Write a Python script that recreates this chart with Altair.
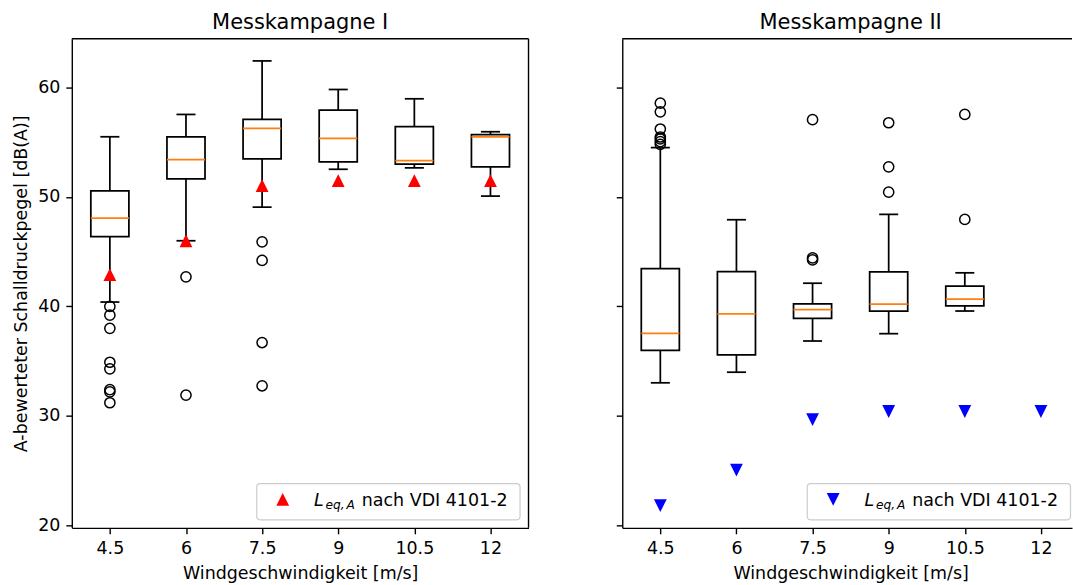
import altair as alt
import pandas as pd

# ---------------- data ----------------
wind_labels = ["4.5", "6", "7.5", "9", "10.5", "12"]
positions = [1, 2, 3, 4, 5, 6]

# Messkampagne I
k1_box_pos = [1, 2, 3, 4, 5, 6]
k1_whislo = [40.40, 46.00, 49.07, 52.53, 52.66, 50.08]
k1_q1 = [46.37, 51.65, 53.47, 53.20, 52.99, 52.75]
k1_med = [48.07, 53.41, 56.27, 55.36, 53.32, 55.48]
k1_q3 = [50.56, 55.50, 57.09, 57.94, 56.42, 55.69]
k1_whishi = [55.50, 57.54, 62.43, 59.82, 58.97, 55.96]
k1_leq = [42.9, 46.0, 51.05, 51.5, 51.5, 51.5]
k1_out_pos = [1, 1, 1, 1, 1, 1, 1, 1, 2, 2, 3, 3, 3, 3]
k1_out_val = [40.0, 39.2, 38.0, 34.9, 34.3, 32.4, 32.2, 31.2,
              42.7, 31.9, 45.9, 44.2, 36.7, 32.75]

# Messkampagne II
k2_box_pos = [1, 2, 3, 4, 5]
k2_whislo = [33.02, 33.99, 36.84, 37.51, 39.58]
k2_q1 = [35.99, 35.57, 38.91, 39.58, 40.06]
k2_med = [37.54, 39.33, 39.70, 40.21, 40.67]
k2_q3 = [43.46, 43.19, 40.24, 43.16, 41.85]
k2_whishi = [54.51, 47.92, 42.12, 48.41, 43.07]
k2_leq = [21.8, 25.05, 29.65, 30.4, 30.4, 30.4]
k2_out_pos = [1, 1, 1, 1, 1, 1, 1, 3, 3, 3, 4, 4, 4, 5, 5]
k2_out_val = [58.57, 57.78, 56.21, 55.48, 55.30, 55.05, 54.81,
              57.06, 44.43, 44.25, 56.78, 52.75, 50.44, 57.54, 47.95]

y_ticks = [20, 30, 40, 50, 60]
Y_DOMAIN = [19.77, 64.46]

FONT = "DejaVu Sans"
PW = 458
PH = 490.5
BOXW = 0.25
CAPW = 0.125
LW = 1.75
TRI_SIZE = 165

label_expr = "[" + ",".join("'%s'" % s for s in wind_labels) + "][datum.value - 1]"
TRI_UP = "M0,-1L1,1L-1,1Z"
TRI_DOWN = "M0,1L1,-1L-1,-1Z"


def make_panel(title, box_pos, whislo, q1, med, q3, whishi, out_pos, out_val,
               leq, leq_color, leq_shape, width, show_labels, title_dx):
    xmax = 0.5 + width / (PW / 6.0)
    xs = alt.Scale(domain=[0.5, xmax], nice=False, zero=False)
    ys = alt.Scale(domain=Y_DOMAIN, nice=False, zero=False)
    xaxis = alt.Axis(values=positions, labelExpr=label_expr, grid=False,
                     title="Windgeschwindigkeit [m/s]", titleX=PW / 2)
    if show_labels:
        yaxis = alt.Axis(values=y_ticks, grid=False,
                         title="A-bewerteter Schalldruckpegel [dB(A)]",
                         minExtent=34, maxExtent=34)
    else:
        yaxis = alt.Axis(values=y_ticks, labels=False, title=None, grid=False,
                         minExtent=6, maxExtent=6)

    def X(f):
        return alt.X(f, type="quantitative", scale=xs, axis=xaxis)

    def Y(f):
        return alt.Y(f, type="quantitative", scale=ys, axis=yaxis)

    box_df = pd.DataFrame({"pos": box_pos, "q1": q1, "q3": q3, "med": med,
                           "lo": whislo, "hi": whishi})
    box_df["xl"] = box_df["pos"] - BOXW
    box_df["xr"] = box_df["pos"] + BOXW

    segs = []
    for _, r in box_df.iterrows():
        segs.append({"x": r.pos, "x2": r.pos, "y": r.q3, "y2": r.hi})
        segs.append({"x": r.pos, "x2": r.pos, "y": r.q1, "y2": r.lo})
        segs.append({"x": r.pos - CAPW, "x2": r.pos + CAPW, "y": r.hi, "y2": r.hi})
        segs.append({"x": r.pos - CAPW, "x2": r.pos + CAPW, "y": r.lo, "y2": r.lo})
    seg_df = pd.DataFrame(segs)

    out_df = pd.DataFrame({"pos": out_pos, "val": out_val})
    leq_df = pd.DataFrame({"pos": positions, "leq": leq})
    one = pd.DataFrame({"k": [0]})

    boxes = alt.Chart(box_df).mark_rect(fillOpacity=0, stroke="black", strokeWidth=LW).encode(
        x=X("xl"), x2="xr", y=Y("q1"), y2="q3")
    whisk = alt.Chart(seg_df).mark_rule(color="black", strokeWidth=LW).encode(
        x=X("x"), x2="x2", y=Y("y"), y2="y2")
    meds = alt.Chart(box_df).mark_rule(color="#ff7f0e", strokeWidth=LW).encode(
        x=X("xl"), x2="xr", y=Y("med"))
    outs = alt.Chart(out_df).mark_point(shape="circle", filled=False, color="black",
                                        size=105, strokeWidth=1.5, opacity=1).encode(
        x=X("pos"), y=Y("val"))
    tris = alt.Chart(leq_df).mark_point(shape=leq_shape, filled=True, color=leq_color,
                                        size=TRI_SIZE, strokeWidth=0, opacity=1).encode(
        x=X("pos"), y=Y("leq"))

    top = alt.Chart(one).mark_rule(color="black", strokeWidth=1.4).encode(
        x=alt.value(0), x2=alt.value(width), y=alt.value(0))
    layers = [top]
    if show_labels:
        right = alt.Chart(one).mark_rule(color="black", strokeWidth=1.4).encode(
            x=alt.value(width), y=alt.value(0), y2=alt.value(PH))
        layers.append(right)

    # legend
    lx0, lx1, ly0, ly1 = 185.5, 449.5, 446.2, 482.5
    leg_box = alt.Chart(one).mark_rect(fill="white", fillOpacity=0.8, stroke="#cccccc",
                                       strokeWidth=1.2, cornerRadius=3.5).encode(
        x=alt.value(lx0), x2=alt.value(lx1), y=alt.value(ly0), y2=alt.value(ly1))
    leg_mark = alt.Chart(one).mark_point(shape=leq_shape, filled=True, color=leq_color,
                                         size=TRI_SIZE, strokeWidth=0, opacity=1).encode(
        x=alt.value(211.5), y=alt.value(462))

    def txt(s, x, y, size, italic):
        kw = dict(text=s, font=FONT, fontSize=size, align="left",
                  baseline="alphabetic", color="black")
        if italic:
            kw["fontStyle"] = "italic"
        return alt.Chart(one).mark_text(**kw).encode(x=alt.value(x), y=alt.value(y))

    t_L = txt("L", 243, 468.5, 17.5, True)
    t_eq = txt("eq,", 254.5, 472, 12.25, True)
    t_A = txt("A", 275.5, 472, 12.25, True)
    t_rest = txt("nach VDI 4101-2", 290.8, 468.5, 17.5, False)

    ch = alt.layer(boxes, whisk, meds, outs, *layers, tris, leg_box, leg_mark,
                   t_L, t_eq, t_A, t_rest)
    return ch.properties(
        width=width, height=PH,
        title=alt.TitleParams(title, fontSize=21, font=FONT, fontWeight="normal",
                              offset=-11.5, baseline="alphabetic", anchor="middle",
                              color="black", dx=title_dx))


left = make_panel("Messkampagne I", k1_box_pos, k1_whislo, k1_q1, k1_med, k1_q3, k1_whishi,
                  k1_out_pos, k1_out_val, k1_leq, "#ff0000", TRI_UP, PW, True, 0)
right = make_panel("Messkampagne II", k2_box_pos, k2_whislo, k2_q1, k2_med, k2_q3, k2_whishi,
                   k2_out_pos, k2_out_val, k2_leq, "#0000ff", TRI_DOWN, 451, False, 3.5)

chart = alt.hconcat(left, right, spacing=86).properties(
    padding={"left": 13, "top": 10, "right": 0, "bottom": 0},
    background="white"
).configure_view(strokeWidth=0).configure_axis(
    labelFont=FONT, labelFontSize=17.5, labelColor="black",
    titleFont=FONT, titleFontSize=17.5, titleFontWeight="normal", titleColor="black",
    tickColor="black", domainColor="black", tickSize=6, tickWidth=1.4, domainWidth=1.4,
    grid=False, labelFlush=False, labelPadding=6, titlePadding=7
).configure_axisX(labelPadding=6, titlePadding=7)

chart.save("out.html", embed_options={"renderer": "svg", "actions": False})
